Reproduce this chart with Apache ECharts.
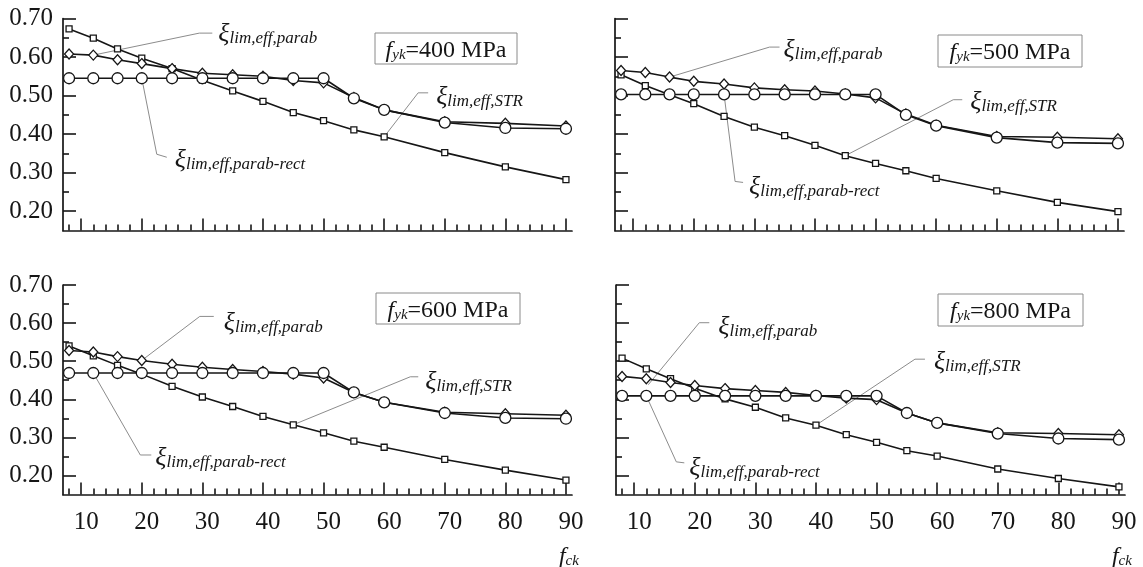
<!DOCTYPE html>
<html>
<head>
<meta charset="utf-8">
<script src="https://cdn.jsdelivr.net/npm/echarts@6/dist/echarts.min.js"></script>
<style>
  html, body { margin: 0; padding: 0; background: #fff; }
  #chart { width: 1143px; height: 567px; }
</style>
</head>
<body>
<div id="chart"></div>
<script>
// concrete strength f_ck (x values)
const fck = [8, 12, 16, 20, 25, 30, 35, 40, 45, 50, 55, 60, 70, 80, 90];
const xMajorTicks = [10, 20, 30, 40, 50, 60, 70, 80, 90];
const xMinorTicks = [8, 12, 14, 16, 18, 22, 24, 26, 28, 32, 34, 36, 38, 42, 44, 46, 48,
  52, 54, 56, 58, 62, 64, 66, 68, 72, 74, 76, 78, 82, 84, 86, 88];
const yMajorTicks = [0.2, 0.3, 0.4, 0.5, 0.6, 0.7];
const yMinorTicks = [0.25, 0.35, 0.45, 0.55, 0.65];

const fykValues = [400, 500, 600, 800];

// fyk = 400 MPa
const str400 = [0.673, 0.649, 0.621, 0.597, 0.570, 0.540, 0.512, 0.485, 0.456, 0.435, 0.411, 0.393, 0.352, 0.315, 0.282];
const parab400 = [0.608, 0.605, 0.593, 0.583, 0.570, 0.558, 0.554, 0.550, 0.539, 0.533, 0.495, 0.463, 0.432, 0.428, 0.421];
const rect400 = [0.545, 0.545, 0.545, 0.545, 0.545, 0.545, 0.545, 0.545, 0.545, 0.545, 0.493, 0.463, 0.430, 0.416, 0.414];
// fyk = 500 MPa
const str500 = [0.554, 0.526, 0.502, 0.479, 0.446, 0.418, 0.396, 0.371, 0.344, 0.324, 0.305, 0.285, 0.253, 0.223, 0.199];
const parab500 = [0.565, 0.560, 0.548, 0.537, 0.530, 0.520, 0.515, 0.512, 0.504, 0.494, 0.452, 0.423, 0.394, 0.392, 0.388];
const rect500 = [0.503, 0.503, 0.503, 0.503, 0.503, 0.503, 0.503, 0.503, 0.503, 0.503, 0.450, 0.422, 0.391, 0.378, 0.376];
// fyk = 600 MPa
const str600 = [0.540, 0.514, 0.489, 0.466, 0.434, 0.406, 0.381, 0.355, 0.333, 0.312, 0.290, 0.274, 0.242, 0.214, 0.188];
const parab600 = [0.528, 0.524, 0.512, 0.502, 0.492, 0.484, 0.478, 0.473, 0.466, 0.456, 0.418, 0.392, 0.366, 0.362, 0.358];
const rect600 = [0.469, 0.469, 0.469, 0.469, 0.469, 0.469, 0.469, 0.469, 0.469, 0.469, 0.418, 0.392, 0.364, 0.351, 0.349];
// fyk = 800 MPa
const str800 = [0.508, 0.480, 0.454, 0.429, 0.401, 0.379, 0.351, 0.332, 0.307, 0.287, 0.265, 0.251, 0.217, 0.192, 0.170];
const parab800 = [0.460, 0.454, 0.444, 0.436, 0.428, 0.423, 0.418, 0.410, 0.403, 0.399, 0.364, 0.338, 0.312, 0.310, 0.307];
const rect800 = [0.409, 0.409, 0.409, 0.409, 0.409, 0.409, 0.409, 0.409, 0.409, 0.409, 0.364, 0.338, 0.310, 0.297, 0.294];

const panelData = [
  [str400, parab400, rect400],
  [str500, parab500, rect500],
  [str600, parab600, rect600],
  [str800, parab800, rect800]
];
const curveNames = ['lim,eff,STR', 'lim,eff,parab', 'lim,eff,parab-rect'];

const SERIF = "'Liberation Serif', 'DejaVu Serif', serif";
const INK = '#161616';

const grids = [
  { left: 63, top: 18.5, width: 509, height: 212 },
  { left: 615, top: 18.5, width: 509, height: 212 },
  { left: 63, top: 285, width: 509, height: 209.5 },
  { left: 616, top: 285, width: 509, height: 209.5 }
];

// 3 axes per direction and grid: line + labels, major ticks, minor ticks
function tickAxis(gridIndex, min, max, pos, values, len) {
  return {
    type: 'value', gridIndex: gridIndex, min: min, max: max, position: pos,
    axisLine: { show: false, onZero: false },
    axisTick: { show: true, inside: true, length: len, customValues: values, lineStyle: { color: INK, width: 1.6 } },
    axisLabel: { show: false },
    splitLine: { show: false }
  };
}

const xAxes = [];
const yAxes = [];
grids.forEach((g, i) => {
  const bottomRow = i >= 2;
  const leftCol = i % 2 === 0;
  xAxes.push({
    type: 'value', gridIndex: i, min: 7, max: 91, position: 'bottom',
    axisLine: { show: true, onZero: false, lineStyle: { color: INK, width: 1.7 } },
    axisTick: { show: false },
    axisLabel: {
      show: bottomRow, customValues: xMajorTicks, margin: 15, padding: [0, 0, 0, 10],
      fontFamily: SERIF, fontSize: 25, color: INK
    },
    splitLine: { show: false }
  });
  xAxes.push(tickAxis(i, 7, 91, 'bottom', xMajorTicks, 12));
  xAxes.push(tickAxis(i, 7, 91, 'bottom', xMinorTicks, 6));
  yAxes.push({
    type: 'value', gridIndex: i, min: 0.15, max: 0.70, position: 'left',
    axisLine: { show: true, onZero: false, lineStyle: { color: INK, width: 1.7 } },
    axisTick: { show: false },
    axisLabel: {
      show: leftCol, customValues: yMajorTicks, margin: 10,
      formatter: v => v.toFixed(2),
      fontFamily: SERIF, fontSize: 25, color: INK
    },
    splitLine: { show: false }
  });
  yAxes.push(tickAxis(i, 0.15, 0.70, 'left', yMajorTicks, 13));
  yAxes.push(tickAxis(i, 0.15, 0.70, 'left', yMinorTicks, 6));
});

const symbols = [
  { symbol: 'rect', size: 6 },
  { symbol: 'diamond', size: [9, 10] },
  { symbol: 'circle', size: 11 }
];

const series = [];
panelData.forEach((curves, p) => {
  curves.forEach((vals, k) => {
    series.push({
      name: curveNames[k] + ' ' + fykValues[p],
      type: 'line',
      xAxisIndex: p * 3,
      yAxisIndex: p * 3,
      data: fck.map((x, j) => [x, vals[j]]),
      symbol: symbols[k].symbol,
      symbolSize: symbols[k].size,
      showSymbol: true,
      animation: false,
      lineStyle: { color: INK, width: 1.6 },
      itemStyle: { color: '#fff', borderColor: INK, borderWidth: 1.3 },
      z: 2 + k
    });
  });
});

const chart = echarts.init(document.getElementById('chart'));
chart.setOption({
  animation: false,
  backgroundColor: '#fff',
  grid: grids,
  xAxis: xAxes,
  yAxis: yAxes,
  series: series
});

// annotation layout: leader line offsets (px) from a data point, text offset
const notes = [
  { p: 0, k: 1, x: 12, pts: [[0, 0], [106, -22], [119, -22]], t: [125, -21] },
  { p: 0, k: 2, x: 20, pts: [[0, 0], [15, 76], [25, 79]], t: [33, 82] },
  { p: 0, k: 0, x: 60, pts: [[0, 0], [34, -44], [44, -44]], t: [52, -40] },
  { p: 1, k: 1, x: 16, pts: [[0, 0], [100, -30], [110, -30]], t: [114, -27] },
  { p: 1, k: 2, x: 25, pts: [[0, 0], [11, 87], [19, 88]], t: [25, 93] },
  { p: 1, k: 0, x: 45, pts: [[0, 0], [108, -56], [117, -56]], t: [125, -54] },
  { p: 2, k: 1, x: 20, pts: [[0, 0], [58, -44], [72, -44]], t: [82, -37] },
  { p: 2, k: 2, x: 12, pts: [[0, 0], [47, 82], [58, 82]], t: [62, 85] },
  { p: 2, k: 0, x: 45, pts: [[0, 0], [117, -48], [125, -48]], t: [132, -43] },
  { p: 3, k: 1, x: 12, pts: [[2, 6], [53, -56], [63, -56]], t: [72, -52] },
  { p: 3, k: 2, x: 12, pts: [[0, 0], [30, 66], [38, 67]], t: [43, 72] },
  { p: 3, k: 0, x: 40, pts: [[0, 0], [99, -66], [109, -66]], t: [118, -63] }
];

const xiRich = {
  x: { fontFamily: SERIF, fontStyle: 'italic', fontSize: 26, fill: INK, lineHeight: 26, verticalAlign: 'bottom' },
  s: { fontFamily: SERIF, fontStyle: 'italic', fontSize: 17, fill: INK, lineHeight: 19, verticalAlign: 'bottom' }
};
const fRich = {
  f: { fontFamily: SERIF, fontStyle: 'italic', fontSize: 24, fill: INK, lineHeight: 26, verticalAlign: 'bottom' },
  s: { fontFamily: SERIF, fontStyle: 'italic', fontSize: 15, fill: INK, lineHeight: 18, verticalAlign: 'bottom' },
  n: { fontFamily: SERIF, fontSize: 24, fill: INK, lineHeight: 26, verticalAlign: 'bottom' }
};

const graphic = [];
notes.forEach(n => {
  const j = fck.indexOf(n.x);
  const c = chart.convertToPixel({ seriesIndex: n.p * 3 + n.k }, [n.x, panelData[n.p][n.k][j]]);
  graphic.push({
    type: 'polyline', z: 1, silent: true,
    shape: { points: n.pts.map(d => [c[0] + d[0], c[1] + d[1]]) },
    style: { stroke: '#8c8c8c', lineWidth: 1, fill: null }
  });
  graphic.push({
    type: 'text', z: 10, silent: true,
    x: c[0] + n.t[0], y: c[1] + n.t[1],
    style: {
      text: '{x|ξ}{s|' + curveNames[n.k] + '}', rich: xiRich,
      align: 'left', verticalAlign: 'middle', textAlign: 'left', textVerticalAlign: 'middle'
    }
  });
});

// f_yk boxes
const boxes = [
  { x: 375, y: 33, w: 142, h: 31 },
  { x: 938, y: 35, w: 144, h: 32 },
  { x: 376, y: 293, w: 144, h: 31 },
  { x: 938, y: 294, w: 145, h: 32 }
];
boxes.forEach((b, i) => {
  graphic.push({
    type: 'rect', z: 10, silent: true,
    shape: { x: b.x, y: b.y, width: b.w, height: b.h },
    style: { fill: '#fff', stroke: '#8a8a8a', lineWidth: 1 }
  });
  graphic.push({
    type: 'text', z: 11, silent: true,
    x: b.x + b.w / 2, y: b.y + b.h / 2 + 1,
    style: {
      text: '{f|f}{s|yk}{n|=' + fykValues[i] + ' MPa}', rich: fRich,
      align: 'center', verticalAlign: 'middle', textAlign: 'center', textVerticalAlign: 'middle'
    }
  });
});

// f_ck axis names under the bottom panels
[2, 3].forEach(p => {
  const c = chart.convertToPixel({ xAxisIndex: p * 3, yAxisIndex: p * 3 }, [90, 0.15]);
  graphic.push({
    type: 'text', z: 10, silent: true,
    x: c[0] - 7, y: c[1] + 61,
    style: {
      text: '{f|f}{s|ck}', rich: fRich,
      align: 'left', verticalAlign: 'middle', textAlign: 'left', textVerticalAlign: 'middle'
    }
  });
});

chart.setOption({ graphic: graphic });
</script>
</body>
</html>
